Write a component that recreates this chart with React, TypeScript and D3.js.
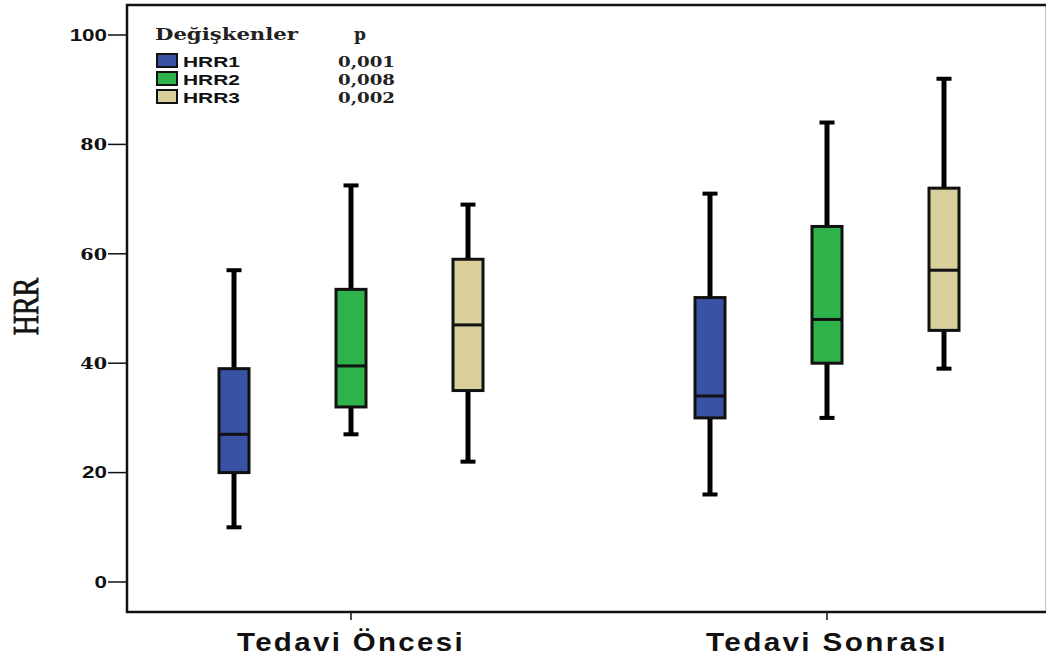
import React from "react";
import * as d3 from "d3";

const groups = ["Tedavi Öncesi", "Tedavi Sonrası"];
const series = ["HRR1", "HRR2", "HRR3"];
const pValues = ["0,001", "0,008", "0,002"];
const colors = ["#3953a4", "#2eb34a", "#d8cf9a"];
// [min, q1, median, q3, max] per group, per series
const statsHRR1 = [[10, 20, 27, 39, 57], [16, 30, 34, 52, 71]];
const statsHRR2 = [[27, 32, 39.5, 53.5, 72.5], [30, 40, 48, 65, 84]];
const statsHRR3 = [[22, 35, 47, 59, 69], [39, 46, 57, 72, 92]];
const yTicks = [0, 20, 40, 60, 80, 100];

export default function App() {
  const W = 1046, H = 657;
  const left = 127, top = 5, right = 1047, bottom = 612;
  const y = d3.scaleLinear().domain([0, 100]).range([582, 35]);
  const xg = d3.scalePoint().domain(groups).range([351, 827]);
  const x1 = d3.scaleBand().domain(series).range([-175.5, 175.5]).padding(0);
  const allStats = [statsHRR1, statsHRR2, statsHRR3];
  const boxW = 30;
  const serifTicks = new Set([40, 60, 80]);
  const labelLens = [228, 242];

  return (
    <svg width={W} height={H} style={{ position: "absolute", left: 0, top: 0, background: "#fff" }}>
      <rect x={0} y={0} width={W} height={H} fill="#fff" />
      {/* frame */}
      <rect x={left} y={top} width={right - left} height={bottom - top} fill="none" stroke="#111" strokeWidth={2.5} />
      {/* y ticks */}
      {yTicks.map((t) => (
        <g key={t}>
          <line x1={left - 19} x2={left} y1={y(t)} y2={y(t)} stroke="#111" strokeWidth={1.5} />
          <text
            transform={`translate(${left - 20},${y(t)}) scale(${serifTicks.has(t) ? 1.2 : 1.4},1)`}
            dy="0.36em"
            textAnchor="end"
            fontSize={16}
            fontWeight="bold"
            fontFamily={serifTicks.has(t) ? "'DejaVu Serif', serif" : "Arial, 'Liberation Sans', sans-serif"}
            fill="#111"
          >
            {t}
          </text>
        </g>
      ))}
      <text
        transform={`translate(25,${y(50) - 2}) rotate(-90) scale(1,1.3)`}
        textAnchor="middle"
        fontSize={28}
        fontFamily="'Liberation Serif', 'Times New Roman', serif"
        fill="#111"
        stroke="#111"
        strokeWidth={0.6}
        dy="0.35em"
      >
        HRR
      </text>
      {/* x ticks and labels */}
      {groups.map((g, gi) => {
        const center = xg(g) as number;
        return (
          <g key={g}>
            <line x1={center} x2={center} y1={bottom} y2={bottom + 8} stroke="#111" strokeWidth={1.5} />
            <text
              x={center - labelLens[gi] / 2}
              y={651}
              fontSize={25}
              fontWeight="bold"
              letterSpacing={2}
              fontFamily="Arial, 'Liberation Sans', sans-serif"
              textLength={labelLens[gi]}
              lengthAdjust="spacingAndGlyphs"
              fill="#111"
            >
              {g}
            </text>
          </g>
        );
      })}
      {/* boxes */}
      {groups.map((g, gi) =>
        series.map((s, si) => {
          const [mn, q1, md, q3, mx] = allStats[si][gi];
          const cx = (xg(g) as number) + (x1(s) as number) + x1.bandwidth() / 2;
          return (
            <g key={g + s}>
              <line x1={cx} x2={cx} y1={y(mx)} y2={y(q3)} stroke="#000" strokeWidth={5} />
              <line x1={cx} x2={cx} y1={y(q1)} y2={y(mn)} stroke="#000" strokeWidth={5} />
              <line x1={cx - 7.5} x2={cx + 7.5} y1={y(mx)} y2={y(mx)} stroke="#000" strokeWidth={4} />
              <line x1={cx - 7.5} x2={cx + 7.5} y1={y(mn)} y2={y(mn)} stroke="#000" strokeWidth={4} />
              <rect x={cx - boxW / 2} y={y(q3)} width={boxW} height={y(q1) - y(q3)} fill={colors[si]} stroke="#111" strokeWidth={3} />
              <line x1={cx - boxW / 2} x2={cx + boxW / 2} y1={y(md)} y2={y(md)} stroke="#111" strokeWidth={3} />
            </g>
          );
        })
      )}
      {/* legend */}
      <g>
        <text x={155} y={40} fontSize={16} fontWeight="bold" fontFamily="'DejaVu Serif', serif" fill="#222" textLength={143} lengthAdjust="spacingAndGlyphs">Değişkenler</text>
        <text x={354} y={40} fontSize={16} fontWeight="bold" fontFamily="'DejaVu Serif', serif" fill="#222" textLength={12} lengthAdjust="spacingAndGlyphs">p</text>
        {series.map((s, i) => (
          <g key={s}>
            <rect x={157} y={54 + i * 18} width={20} height={13} fill={colors[i]} stroke="#111" strokeWidth={2} />
            <text x={183} y={67 + i * 18} fontSize={15} fontWeight="bold" fontFamily="Arial, 'Liberation Sans', sans-serif" fill="#111" textLength={57} lengthAdjust="spacingAndGlyphs">{s}</text>
            <text x={338} y={67 + i * 18} fontSize={15} fontWeight="bold" fontFamily="'DejaVu Serif', serif" fill="#222" textLength={57} lengthAdjust="spacingAndGlyphs">{pValues[i]}</text>
          </g>
        ))}
      </g>
    </svg>
  );
}
